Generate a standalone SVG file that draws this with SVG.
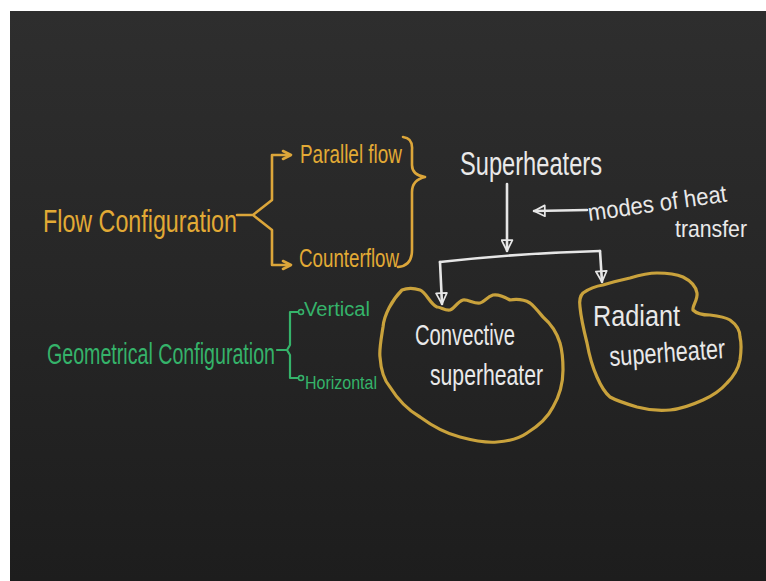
<svg xmlns="http://www.w3.org/2000/svg" width="766" height="581" viewBox="0 0 766 581">
<defs>
<linearGradient id="board" x1="0" y1="0" x2="0" y2="1">
<stop offset="0" stop-color="#2e2e2e"/>
<stop offset="0.5" stop-color="#262626"/>
<stop offset="1" stop-color="#1d1d1d"/>
</linearGradient>
<marker id="triW" viewBox="0 0 12 12" refX="11" refY="6" markerWidth="13" markerHeight="13" markerUnits="userSpaceOnUse" orient="auto">
<path d="M1,1 L11,6 L1,11 Z" fill="none" stroke="#e6e6e6" stroke-width="1.6" stroke-linejoin="round"/>
</marker>
</defs>
<style>
.w{fill:#e9e9e9;font-family:"Liberation Sans","DejaVu Sans",sans-serif;}
.y{fill:#e2aa35;font-family:"Liberation Sans","DejaVu Sans",sans-serif;}
.g{fill:#35b36a;font-family:"Liberation Sans","DejaVu Sans",sans-serif;}
.lw{fill:none;stroke:#e6e6e6;stroke-width:2.6;stroke-linecap:round;stroke-linejoin:round;}
.ly{fill:none;stroke:#dca63a;stroke-width:2.6;stroke-linecap:round;stroke-linejoin:round;}
.lg{fill:none;stroke:#35b36a;stroke-width:2.2;stroke-linecap:round;stroke-linejoin:round;}
.blob{fill:none;stroke:#c9a23c;stroke-width:3.2;stroke-linejoin:round;}
</style>
<rect x="0" y="0" width="766" height="581" fill="#ffffff"/>
<rect x="10" y="11" width="756" height="570" fill="url(#board)"/>

<g id="connectors">
<!-- flow configuration bracket -->
<path class="ly" d="M237,215 L253,215 M253,215 L272,200 L272,155 L288,155 M253,215 L272,230 L272,265 L288,265"/>
<path class="ly" d="M283,151 L291,155 L283,159 M283,261 L291,265 L283,269"/>
<!-- right brace -->
<path class="ly" d="M403,137 Q413,138 412,150 L412,165 Q412,175 425,177 Q412,180 412,192 L412,250 Q412,266 398,267"/>
<!-- geometrical configuration bracket -->
<path class="lg" d="M277,350 L287,350 M287,350 L290,345 L290,312 L298,312 M287,350 L290,355 L290,378 L298,378"/>
<circle cx="301" cy="312" r="2.5" fill="none" stroke="#35b36a" stroke-width="1.6"/>
<circle cx="301" cy="378" r="2.5" fill="none" stroke="#35b36a" stroke-width="1.6"/>
<!-- superheaters arrows -->
<path class="lw" d="M507,184 L507,251" marker-end="url(#triW)"/>
<path class="lw" d="M440,262 Q520,253 600,251"/>
<path class="lw" d="M440,262 L442,304" marker-end="url(#triW)"/>
<path class="lw" d="M600,251 L602,282" marker-end="url(#triW)"/>
<path class="lw" d="M587,210 L534,211" marker-end="url(#triW)"/>
</g>

<g id="flow-configuration">
<text class="y" x="43" y="232" font-size="32" textLength="194" lengthAdjust="spacingAndGlyphs">Flow Configuration</text>
</g>
<g id="parallel-flow">
<text class="y" x="300" y="163" font-size="26" textLength="102" lengthAdjust="spacingAndGlyphs">Parallel flow</text>
</g>
<g id="counterflow">
<text class="y" x="299" y="267" font-size="26" textLength="100" lengthAdjust="spacingAndGlyphs">Counterflow</text>
</g>
<g id="geometrical-configuration">
<text class="g" x="47" y="364" font-size="29" textLength="228" lengthAdjust="spacingAndGlyphs">Geometrical Configuration</text>
</g>
<g id="vertical">
<text class="g" x="304" y="316" font-size="20" textLength="66" lengthAdjust="spacingAndGlyphs">Vertical</text>
</g>
<g id="horizontal">
<text class="g" x="305" y="389" font-size="19" textLength="72" lengthAdjust="spacingAndGlyphs">Horizontal</text>
</g>
<g id="superheaters">
<text class="w" x="460" y="175" font-size="34" textLength="142" lengthAdjust="spacingAndGlyphs">Superheaters</text>
</g>
<g id="modes-of-heat-transfer">
<text class="w" x="589" y="221" font-size="24" textLength="140" lengthAdjust="spacingAndGlyphs" transform="rotate(-8 589 221)">modes of heat</text>
<text class="w" x="675" y="237" font-size="24" textLength="72" lengthAdjust="spacingAndGlyphs">transfer</text>
</g>
<g id="convective-superheater">
<path class="blob" d="M402,290 C392,300 384,315 383,327 C381,340 379,350 380,357 C381,372 384,380 390,387 C398,400 408,410 420,417 C435,428 448,434 460,437 C475,441 487,443 497,442 C510,441 520,438 527,433 C540,425 548,417 553,407 C560,395 563,382 563,370 C563,358 562,350 560,343 C556,330 550,323 543,317 C538,311 534,306 530,303 C523,299 516,299 510,300 C503,296 498,294 493,295 C487,297 484,302 480,303 C474,304 468,299 463,300 C457,302 454,309 450,310 C445,311 441,307 437,307 C430,304 426,292 420,290 C414,288 407,288 402,290 Z"/>
<text class="w" x="415" y="345" font-size="30" textLength="100" lengthAdjust="spacingAndGlyphs">Convective</text>
<text class="w" x="430" y="385" font-size="30" textLength="113" lengthAdjust="spacingAndGlyphs">superheater</text>
</g>
<g id="radiant-superheater">
<path class="blob" d="M583,293 C590,288 596,286 603,285 C612,282 621,280 630,278 C640,275 648,273 657,273 C667,273 676,274 683,277 C691,281 696,287 697,293 C698,300 692,306 693,310 C697,314 703,315 710,315 C718,316 725,317 730,320 C737,325 740,331 740,337 C742,345 741,353 740,360 C738,370 733,377 727,383 C720,391 712,396 703,400 C692,405 681,409 670,410 C659,411 648,410 637,407 C627,404 617,401 610,397 C603,391 600,384 597,377 C592,366 589,354 587,343 C584,331 581,318 580,307 C579,300 580,296 583,293 Z"/>
<text class="w" x="593" y="326" font-size="30" textLength="87" lengthAdjust="spacingAndGlyphs">Radiant</text>
<text class="w" x="610" y="366" font-size="28" textLength="116" lengthAdjust="spacingAndGlyphs" transform="rotate(-4 610 366)">superheater</text>
</g>
</svg>
